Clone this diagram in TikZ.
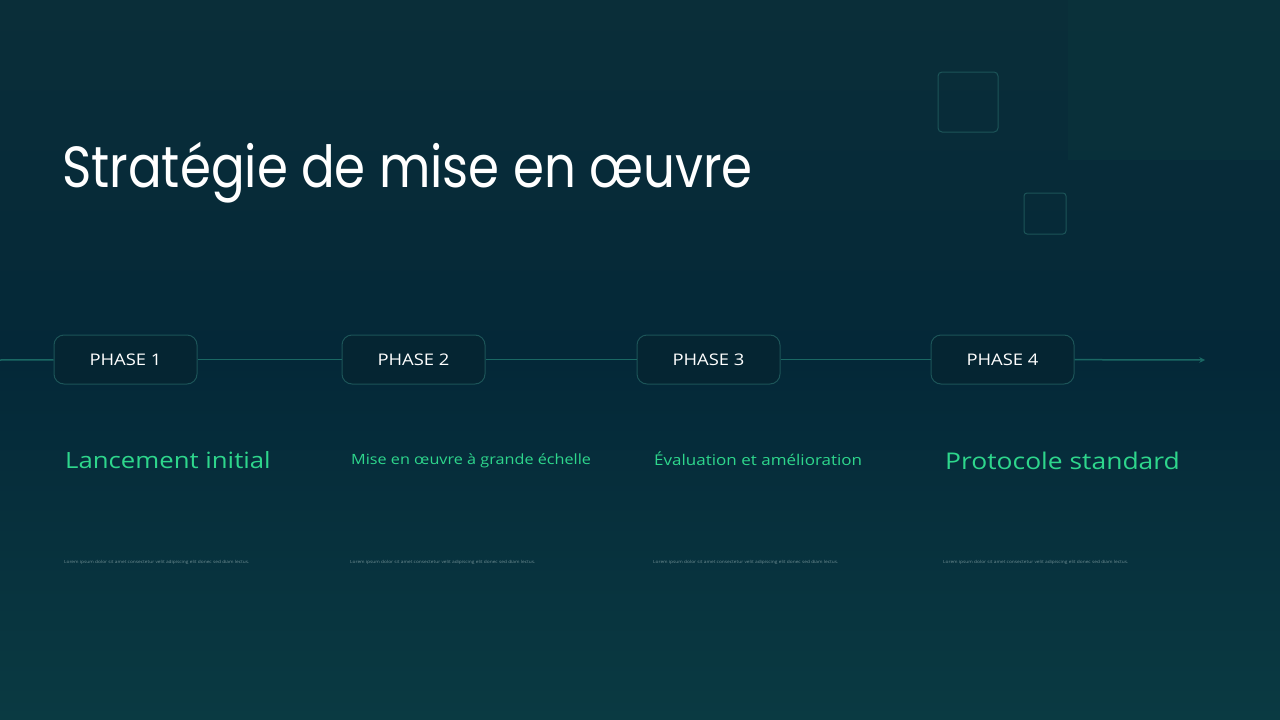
\documentclass[tikz,border=0pt]{standalone}
\usepackage{fontspec}
\setmainfont[FakeStretch=1.15]{Open Sans}
\newfontfamily\titlefont[FakeStretch=0.86]{Poppins}
\usetikzlibrary{arrows,positioning}
\definecolor{bgtop}{RGB}{10,46,57}
\definecolor{bgmid}{RGB}{4,40,56}
\definecolor{bgbot}{RGB}{10,58,66}
\definecolor{corner}{RGB}{10,52,60}
\definecolor{boxline}{RGB}{28,84,88}
\definecolor{boxfill}{RGB}{5,37,50}
\definecolor{trail}{RGB}{26,104,100}
\definecolor{G}{RGB}{46,214,140}
\definecolor{lorem}{RGB}{110,140,146}
\tikzset{
  phasebox/.style={draw=boxline, fill=boxfill, rounded corners=10pt, line width=1pt,
    minimum width=143pt, minimum height=49pt, text=white, font=\fontsize{16}{18}\selectfont},
  headline/.style={anchor=base west, inner sep=0pt, text=G},
  small/.style={anchor=base west, inner sep=0pt, text=lorem, font=\fontsize{4.2}{5}\selectfont}
}

\begin{document}
\begin{tikzpicture}[x=1pt,y=-1pt]
   	% fond
   	\shade[top color=bgtop, bottom color=bgmid] (0,0) rectangle (1280,360);
   	\shade[top color=bgmid, bottom color=bgbot] (0,360) rectangle (1280,720);
   	\fill[corner, opacity=0.6] (1068,0) rectangle (1280,160);
   	\useasboundingbox (0,0) rectangle (1280,720);

	% carres decoratifs
   	\draw[boxline, line width=1pt, rounded corners=4pt] (938,72) rectangle (998,132);
   	\draw[boxline, line width=1pt, rounded corners=3pt] (1024,193) rectangle (1066,234);

	% titre
   	\node[anchor=base west, inner sep=0pt, text=white, font=\titlefont\fontsize{58}{64}\selectfont]
   	  (titre) at (62,187) {Stratégie de mise en œuvre};

	% ligne du temps
   	\coordinate (debut) at (0,360);
   	\coordinate (fin) at (1205,360);
   	\node[phasebox] (p1) at (125.5,359.5) {PHASE 1};
   	\node[phasebox] (p2) at (413.5,359.5) {PHASE 2};
   	\node[phasebox] (p3) at (708.5,359.5) {PHASE 3};
   	\node[phasebox] (p4) at (1002.5,359.5) {PHASE 4};
   	\draw[trail, line width=1.5pt] (debut) -- (p1);
   	\draw[trail, line width=1.5pt] (p1) -- (p2);
   	\draw[trail, line width=1.5pt] (p2) -- (p3);
   	\draw[trail, line width=1.5pt] (p3) -- (p4);
   	\draw[trail, line width=1.5pt, -stealth] (p4) -- (fin);

	% titres des phases
   	\node[headline, font=\fontsize{22.4}{24}\selectfont] (t1) at (65,468) {Lancement initial};
   	\node[headline, font=\fontsize{14.1}{18}\selectfont] (t2) at (351,464) {Mise en œuvre à grande échelle};
   	\node[headline, font=\fontsize{14.8}{18}\selectfont] (t3) at (654,465) {Évaluation et amélioration};
   	\node[headline, font=\fontsize{23}{26}\selectfont] (t4) at (945,469) {Protocole standard};

	% textes
   	\node[small] (l1) at (64,563) {Lorem ipsum dolor sit amet consectetur velit adipiscing elit donec sed diam lectus.};
   	\node[small] (l2) at (350,563) {Lorem ipsum dolor sit amet consectetur velit adipiscing elit donec sed diam lectus.};
   	\node[small] (l3) at (653,563) {Lorem ipsum dolor sit amet consectetur velit adipiscing elit donec sed diam lectus.};
   	\node[small] (l4) at (943,563) {Lorem ipsum dolor sit amet consectetur velit adipiscing elit donec sed diam lectus.};
\end{tikzpicture}
\end{document}
